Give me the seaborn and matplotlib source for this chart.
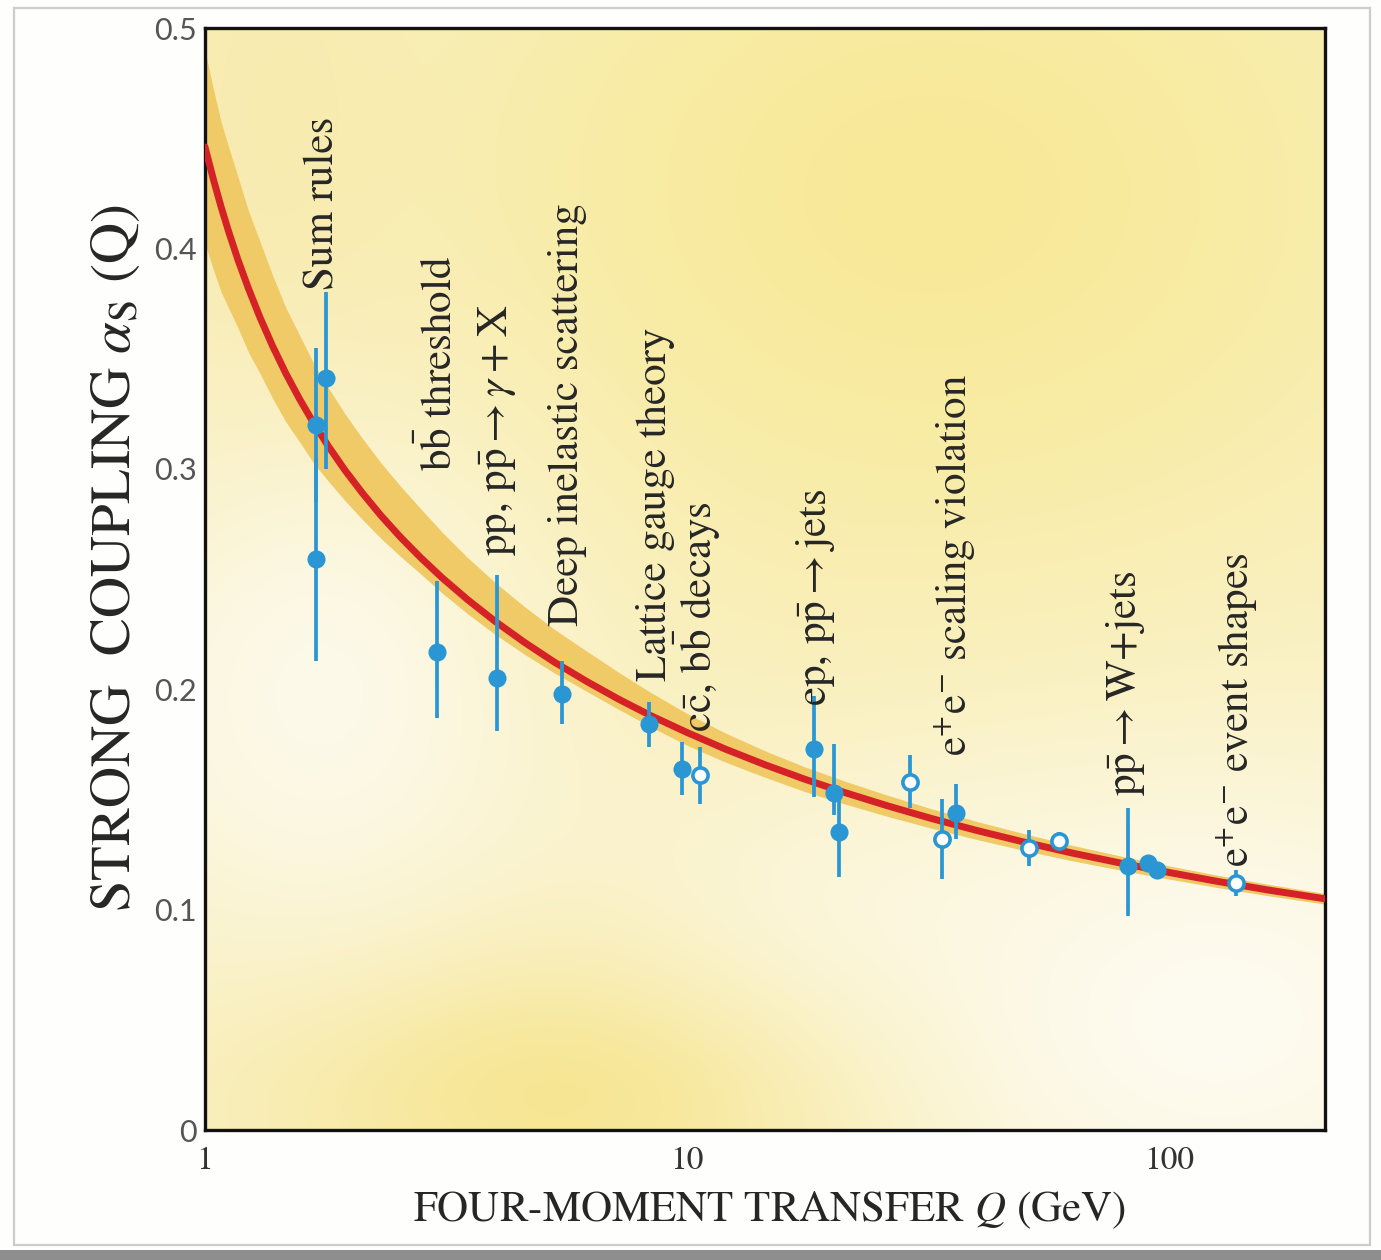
import numpy as np
import pandas as pd
import matplotlib
matplotlib.use("Agg")
import matplotlib.pyplot as plt
from matplotlib.patches import Rectangle
from matplotlib.ticker import NullLocator
import seaborn as sns

# ---------------------------------------------------------------------------
# Running strong coupling: central curve and its uncertainty band
# ---------------------------------------------------------------------------
curve_q = [1.00, 1.04, 1.08, 1.12, 1.17, 1.23, 1.30, 1.38, 1.47, 1.57, 1.68,
           1.80, 1.95, 2.12, 2.32, 2.55, 2.80, 3.10, 3.50, 4.00, 4.60, 5.30,
           6.20, 7.20, 8.40, 10.0, 12.0, 14.5, 17.5, 21.0, 26.0, 32.0, 40.0,
           50.0, 63.0, 80.0, 100.0, 125.0, 160.0, 210.0]
curve_alpha = [0.4460, 0.4316, 0.4188, 0.4075, 0.3949, 0.3819, 0.3687, 0.3558,
               0.3434, 0.3317, 0.3207, 0.3104, 0.2994, 0.2890, 0.2786, 0.2687,
               0.2597, 0.2506, 0.2407, 0.2307, 0.2212, 0.2123, 0.2034, 0.1955,
               0.1880, 0.1803, 0.1728, 0.1657, 0.1592, 0.1534, 0.1471, 0.1414,
               0.1358, 0.1306, 0.1256, 0.1209, 0.1168, 0.1129, 0.1089, 0.1049]
band_low = [0.4022, 0.3906, 0.3802, 0.3728, 0.3640, 0.3530, 0.3433, 0.3321,
            0.3214, 0.3123, 0.3026, 0.2945, 0.2856, 0.2770, 0.2683, 0.2600,
            0.2523, 0.2437, 0.2343, 0.2248, 0.2158, 0.2074, 0.1989, 0.1909,
            0.1829, 0.1745, 0.1669, 0.1600, 0.1536, 0.1482, 0.1423, 0.1370,
            0.1317, 0.1268, 0.1221, 0.1177, 0.1138, 0.1101, 0.1063, 0.1025]
band_high = [0.4898, 0.4726, 0.4574, 0.4458, 0.4326, 0.4172, 0.4031, 0.3879,
             0.3732, 0.3607, 0.3478, 0.3369, 0.3250, 0.3138, 0.3025, 0.2918,
             0.2819, 0.2713, 0.2598, 0.2483, 0.2374, 0.2272, 0.2171, 0.2077,
             0.1985, 0.1889, 0.1801, 0.1720, 0.1648, 0.1586, 0.1519, 0.1458,
             0.1399, 0.1344, 0.1291, 0.1241, 0.1198, 0.1157, 0.1115, 0.1073]

# ---------------------------------------------------------------------------
# Measurements of alpha_s(Q)
# ---------------------------------------------------------------------------
meas_q = [1.70, 1.70, 1.78, 3.03, 4.03, 5.50, 8.34, 9.77, 10.6, 18.3, 20.1,
          20.6, 29.0, 33.8, 36.0, 51.0, 58.9, 81.8, 90.0, 94.0, 137.0]
meas_alpha = [0.320, 0.259, 0.341, 0.217, 0.205, 0.198, 0.184, 0.164, 0.161,
              0.173, 0.153, 0.135, 0.158, 0.132, 0.144, 0.128, 0.131, 0.120,
              0.121, 0.118, 0.112]
meas_err_low = [0.035, 0.046, 0.041, 0.030, 0.024, 0.014, 0.010, 0.012, 0.013,
                0.022, 0.010, 0.020, 0.012, 0.018, 0.012, 0.008, 0.004, 0.023,
                0.003, 0.003, 0.006]
meas_err_high = [0.035, 0.046, 0.039, 0.032, 0.047, 0.015, 0.010, 0.012, 0.013,
                 0.024, 0.022, 0.020, 0.012, 0.018, 0.013, 0.008, 0.004, 0.026,
                 0.003, 0.003, 0.006]
meas_kind = ["filled", "filled", "filled", "filled", "filled", "filled",
             "filled", "filled", "open", "filled", "filled", "filled", "open",
             "open", "filled", "open", "open", "filled", "filled", "filled",
             "open"]

# Process labels (written vertically above the points)
process_labels = [
    "Sum rules",
    r"b$\bar{\mathrm{b}}$ threshold",
    r"pp, p$\bar{\mathrm{p}}\rightarrow\gamma+$X",
    "Deep inelastic scattering",
    "Lattice gauge theory",
    r"c$\bar{\mathrm{c}}$, b$\bar{\mathrm{b}}$ decays",
    r"ep, p$\bar{\mathrm{p}}\rightarrow$jets",
    r"e$^{+}$e$^{-}$ scaling violation",
    r"p$\bar{\mathrm{p}}\rightarrow$W+jets",
    r"e$^{+}$e$^{-}$ event shapes",
]
process_label_q = [1.757, 3.07, 4.04, 5.64, 8.58, 10.49, 18.44, 35.97, 81.0, 138.4]
process_label_alpha = [0.381, 0.299, 0.2605, 0.2286, 0.2036, 0.1805, 0.1923,
                       0.1695, 0.1514, 0.1195]

x_ticks = [1, 10, 100]
x_tick_labels = ["1", "10", "100"]
y_ticks = [0.0, 0.1, 0.2, 0.3, 0.4, 0.5]
y_tick_labels = ["0", "0.1", "0.2", "0.3", "0.4", "0.5"]

# ---------------------------------------------------------------------------
# Styling
# ---------------------------------------------------------------------------
sns.set_theme(style="white")
plt.rcParams["font.family"] = ["STIXGeneral", "DejaVu Serif"]
plt.rcParams["mathtext.fontset"] = "stix"

RED = "#d42226"
BLUE = "#2a97d4"
BAND = "#efca66"
INK = "#262626"

W, H = 1381, 1260
fig = plt.figure(figsize=(W / 100, H / 100), dpi=100)
fig.patch.set_facecolor("#fefefd")

ax_rect = [205 / W, 1 - 1130 / H, 1120 / W, 1102 / H]

# Soft yellow wash behind the plotting area
bg = fig.add_axes(ax_rect, zorder=0)
nu, nv = 300, 300
u, v = np.meshgrid(np.linspace(0, 1, nu), np.linspace(1, 0, nv))
img = np.ones((nv, nu, 3)) * np.array([250, 242, 204]) / 255.0
blobs = [
    # (u0, v0, sigma_u, sigma_v, strength, rgb)
    (0.65, 0.85, 0.38, 0.30, 0.95, (248, 233, 150)),
    (0.05, 0.90, 0.10, 0.30, 0.55, (247, 232, 165)),
    (0.33, 0.04, 0.22, 0.10, 0.95, (246, 228, 138)),
    (0.10, 0.40, 0.14, 0.17, 0.85, (253, 251, 240)),
    (0.90, 0.10, 0.22, 0.16, 0.92, (254, 252, 244)),
    (0.58, 0.20, 0.16, 0.09, 0.45, (253, 250, 236)),
]
for u0, v0, su, sv, a, rgb in blobs:
    w = a * np.exp(-((u - u0) ** 2 / (2 * su ** 2) + (v - v0) ** 2 / (2 * sv ** 2)))
    img = img * (1 - w[..., None]) + (np.array(rgb) / 255.0) * w[..., None]
bg.imshow(img, extent=[0, 1, 0, 1], aspect="auto", interpolation="bilinear")
bg.set_axis_off()

ax = fig.add_axes(ax_rect, zorder=1)
ax.set_facecolor("none")
ax.set_xscale("log")

# Uncertainty band and central curve
ax.fill_between(curve_q, band_low, band_high, color=BAND, lw=0, zorder=2)
sns.lineplot(x=curve_q, y=curve_alpha, ax=ax, color=RED, lw=5,
             estimator=None, sort=False, zorder=3)

# Measurements
df = pd.DataFrame({"Q": meas_q, "alpha": meas_alpha,
                   "lo": meas_err_low, "hi": meas_err_high, "kind": meas_kind})
ax.errorbar(df["Q"], df["alpha"], yerr=[df["lo"], df["hi"]], fmt="none",
            ecolor=BLUE, elinewidth=2.7, capsize=0, zorder=4)
filled = df[df["kind"] == "filled"]
hollow = df[df["kind"] == "open"]
sns.scatterplot(data=filled, x="Q", y="alpha", ax=ax, color=BLUE,
                edgecolor=BLUE, s=170, linewidth=0, zorder=5, legend=False)
sns.scatterplot(data=hollow, x="Q", y="alpha", ax=ax, color="white",
                edgecolor=BLUE, s=120, linewidth=2.6, zorder=5, legend=False)

# Process labels
for text, q, a in zip(process_labels, process_label_q, process_label_alpha):
    ax.text(q, a, text, rotation=90, ha="center", va="bottom",
            fontsize=31, color=INK, zorder=6)

# Axes
ax.set_xlim(1, 210)
ax.set_ylim(0, 0.5)
ax.set_xticks(x_ticks)
ax.set_xticklabels(x_tick_labels)
ax.xaxis.set_minor_locator(NullLocator())
ax.set_yticks(y_ticks)
ax.set_yticklabels(y_tick_labels)
ax.tick_params(axis="both", which="major", direction="in", length=13,
               width=2, color="#111111")
ax.tick_params(axis="x", labelsize=24, labelcolor="#333333", pad=12)
ax.tick_params(axis="y", labelsize=22, labelcolor="#555555", pad=6)
for lab in ax.get_yticklabels():
    lab.set_family(["Lato", "DejaVu Sans"])
for side in ["left", "right", "top", "bottom"]:
    ax.spines[side].set_visible(True)
    ax.spines[side].set_linewidth(2.4)
    ax.spines[side].set_color("#111111")

ax.set_xlabel(r"FOUR-MOMENT TRANSFER $Q$ (GeV)", fontsize=31, color=INK,
              va="center")
ax.xaxis.set_label_coords(0.504, -0.0726)
ax.set_ylabel(r"STRONG  COUPLING $\alpha_{\mathrm{S}}$ (Q)", fontsize=41,
              color=INK, va="center")
ax.yaxis.set_label_coords(-0.080, 0.519)

# Page frame
fig.patches.append(Rectangle((14 / W, 1 - 1245 / H), (1370 - 14) / W,
                             (1245 - 8) / H, transform=fig.transFigure,
                             fill=False, edgecolor="#cccccc", lw=1.6,
                             zorder=0))
fig.patches.append(Rectangle((0, 0), 1, 10 / H, transform=fig.transFigure,
                             facecolor="#8e8e8e", edgecolor="none", zorder=0))

fig.savefig("out.png", dpi=100)
